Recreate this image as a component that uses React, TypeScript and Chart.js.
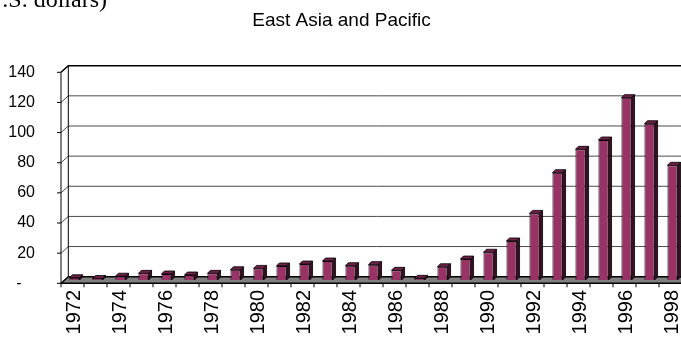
import React, { useEffect, useRef } from "react";
import { Chart, registerables } from "chart.js";

Chart.register(...registerables);

const years: string[] = [
  "1972", "1973", "1974", "1975", "1976", "1977", "1978", "1979", "1980",
  "1981", "1982", "1983", "1984", "1985", "1986", "1987", "1988", "1989",
  "1990", "1991", "1992", "1993", "1994", "1995", "1996", "1997", "1998",
];
const values: number[] = [
  1.5, 1.0, 2.5, 4.4, 4.0, 3.3, 4.4, 6.8, 7.7,
  9.3, 10.6, 12.6, 9.5, 10.2, 6.4, 1.1, 8.8, 13.9,
  18.4, 25.9, 44.2, 71.2, 86.7, 92.9, 121.0, 103.7, 76.1,
];
const yTicks: number[] = [0, 20, 40, 60, 80, 100, 120, 140];
const titleText = "East Asia and Pacific";
const unitText = "U.S. dollars)";

const FONT = '"Liberation Sans", Arial, Helvetica, sans-serif';
const FRONT_DX = -2;
const FRONT_DY = 3.3;
const BACK_DX = 5.3;
const BACK_DY = -3.3;
const DEPTH = 3;

export default function App() {
  const ref = useRef<HTMLCanvasElement | null>(null);

  useEffect(() => {
    if (!ref.current) return;

    const wallPlugin = {
      id: "wall3d",
      beforeDatasetsDraw(chart: any) {
        const { ctx, chartArea } = chart;
        const ys = chart.scales.y;
        const W = chart.width + 20;
        const fx = chartArea.left + FRONT_DX;
        const bx = chartArea.left + BACK_DX;
        ctx.save();
        yTicks.forEach((v) => {
          if (v === 0) return;
          const y = ys.getPixelForValue(v);
          ctx.beginPath();
          ctx.moveTo(fx, y + FRONT_DY);
          ctx.lineTo(bx, y + BACK_DY);
          ctx.lineTo(W, y + BACK_DY);
          ctx.strokeStyle = v === 140 ? "#000" : "#4a4a4a";
          ctx.lineWidth = v === 140 ? 1.5 : 1;
          ctx.stroke();
        });
        const y0 = ys.getPixelForValue(0);
        const yTop = ys.getPixelForValue(140);
        ctx.beginPath();
        ctx.moveTo(bx, yTop + BACK_DY);
        ctx.lineTo(bx, y0 + BACK_DY);
        ctx.strokeStyle = "#000";
        ctx.lineWidth = 1;
        ctx.stroke();
        ctx.beginPath();
        ctx.moveTo(fx, y0 + FRONT_DY);
        ctx.lineTo(bx, y0 + BACK_DY);
        ctx.lineTo(W, y0 + BACK_DY);
        ctx.lineTo(W, y0 + FRONT_DY);
        ctx.closePath();
        ctx.fillStyle = "#808080";
        ctx.fill();
        ctx.beginPath();
        ctx.moveTo(fx, y0 + FRONT_DY);
        ctx.lineTo(bx, y0 + BACK_DY);
        ctx.lineTo(W, y0 + BACK_DY);
        ctx.strokeStyle = "#000";
        ctx.lineWidth = 1.5;
        ctx.stroke();
        ctx.beginPath();
        ctx.moveTo(fx, y0 + FRONT_DY);
        ctx.lineTo(W, y0 + FRONT_DY);
        ctx.stroke();
        ctx.lineWidth = 1;
        ctx.beginPath();
        ctx.moveTo(fx, yTop + FRONT_DY);
        ctx.lineTo(fx, y0 + FRONT_DY);
        yTicks.forEach((v) => {
          const y = ys.getPixelForValue(v) + FRONT_DY;
          ctx.moveTo(fx - 4, y);
          ctx.lineTo(fx, y);
        });
        const catW = (chartArea.right - chartArea.left) / years.length;
        for (let k = 0; k <= years.length; k++) {
          const x = fx + catW * k;
          ctx.moveTo(x, y0 + FRONT_DY);
          ctx.lineTo(x, y0 + FRONT_DY + 4);
        }
        ctx.stroke();
        ctx.restore();
      },
      afterDatasetsDraw(chart: any) {
        const { ctx } = chart;
        const meta = chart.getDatasetMeta(0);
        ctx.save();
        ctx.lineWidth = 0.8;
        ctx.strokeStyle = "#000";
        meta.data.forEach((bar: any) => {
          const { x, y, base, width } = bar.getProps(["x", "y", "base", "width"], true);
          const l = x - width / 2;
          const r = x + width / 2;
          ctx.beginPath();
          ctx.moveTo(r, y);
          ctx.lineTo(r + DEPTH, y - DEPTH);
          ctx.lineTo(r + DEPTH, base - DEPTH);
          ctx.lineTo(r, base);
          ctx.closePath();
          ctx.fillStyle = "#3a0f24";
          ctx.fill();
          ctx.stroke();
          ctx.beginPath();
          ctx.moveTo(l, y);
          ctx.lineTo(l + DEPTH, y - DEPTH);
          ctx.lineTo(r + DEPTH, y - DEPTH);
          ctx.lineTo(r, y);
          ctx.closePath();
          ctx.fillStyle = "#6e2048";
          ctx.fill();
          ctx.stroke();
        });
        ctx.restore();
      },
      afterDraw(chart: any) {
        const { ctx } = chart;
        ctx.save();
        ctx.fillStyle = "#000";
        ctx.font = `19px ${FONT}`;
        ctx.textAlign = "center";
        ctx.textBaseline = "alphabetic";
        ctx.fillText(titleText, 341.5, 26);
        ctx.font = '24px "Liberation Serif", "Times New Roman", serif';
        ctx.textAlign = "right";
        ctx.fillText(unitText, 107, 7);
        ctx.restore();
      },
    };

    const chart = new Chart(ref.current, {
      type: "bar",
      data: {
        labels: years,
        datasets: [
          {
            data: values,
            backgroundColor: "#993366",
            borderColor: "#000",
            borderWidth: 1,
            barPercentage: 0.44,
            categoryPercentage: 1,
          },
        ],
      },
      options: {
        responsive: false,
        animation: false,
        layout: { padding: { top: 69, left: 0, right: 0, bottom: 0 } },
        plugins: {
          legend: { display: false },
          title: { display: false },
          tooltip: { enabled: false },
        },
        scales: {
          x: {
            grid: { display: false, drawTicks: false },
            border: { display: false },
            afterFit: (s: any) => {
              s.height = 57;
              s.paddingLeft = 0;
              s.paddingRight = 0;
            },
            ticks: {
              autoSkip: false,
              minRotation: 90,
              maxRotation: 90,
              padding: 10,
              labelOffset: 0,
              color: "#000",
              font: { family: FONT, size: 20 },
              callback: (_v: any, i: number) => (i % 2 === 0 ? years[i] : ""),
            },
          },
          y: {
            min: 0,
            max: 140,
            grid: { display: false, drawTicks: false },
            border: { display: false },
            afterFit: (s: any) => {
              s.width = 63;
              s.paddingTop = 0;
              s.paddingBottom = 0;
            },
            afterBuildTicks: (s: any) => {
              s.ticks = yTicks.map((v) => ({ value: v }));
            },
            ticks: {
              padding: 28,
              labelOffset: 3.3,
              color: "#000",
              font: { family: FONT, size: 16 },
              callback: (v: any) => (v === 0 ? "-   " : String(v)),
            },
          },
        },
      },
      plugins: [wallPlugin],
    });
    return () => chart.destroy();
  }, []);

  return (
    <div
      style={{
        position: "absolute",
        left: 0,
        top: 0,
        width: 681,
        height: 337,
        overflow: "hidden",
        background: "#fff",
      }}
    >
      <canvas ref={ref} width={684} height={337} style={{ display: "block" }} />
    </div>
  );
}
